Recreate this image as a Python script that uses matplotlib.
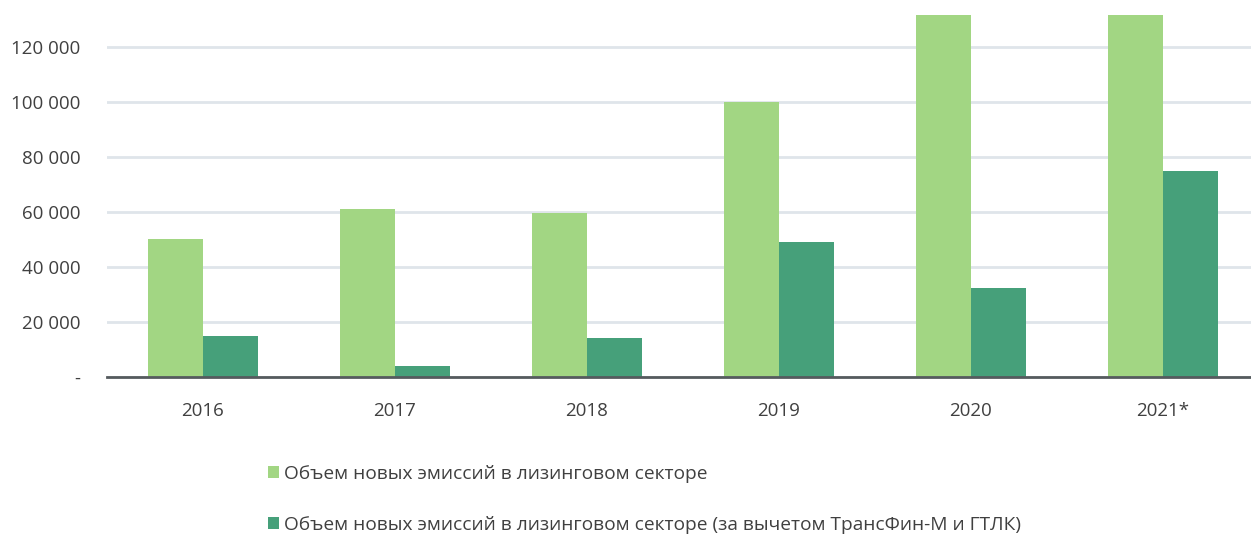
import matplotlib
matplotlib.use("Agg")
import matplotlib.pyplot as plt
import numpy as np
from matplotlib import font_manager

years = ["2016", "2017", "2018", "2019", "2020", "2021*"]
total = [50000, 61000, 59500, 100000, 140000, 140000]
net = [15000, 4000, 14200, 49100, 32400, 75000]
labels = ["Объем новых эмиссий в лизинговом секторе",
          "Объем новых эмиссий в лизинговом секторе (за вычетом ТрансФин-М и ГТЛК)"]
yticks = [0, 20000, 40000, 60000, 80000, 100000, 120000]
ytick_labels = ["-", "20 000", "40 000", "60 000", "80 000", "100 000", "120 000"]

avail = {f.name for f in font_manager.fontManager.ttflist}
fam = ["Liberation Sans Narrow", "DejaVu Sans"] if "Liberation Sans Narrow" in avail else ["Open Sans", "DejaVu Sans"]
plt.rcParams['font.family'] = fam

c_light = "#a2d683"
c_dark = "#46a07a"
txt = "#404040"

fig = plt.figure(figsize=(12.51, 5.40), dpi=100)
ax = fig.add_axes([107/1251, 1-377/540, 1-107/1251, (377-15)/540])

x = np.arange(len(years))
w = 0.286
ax.bar(x - w/2, total, width=w, color=c_light, label=labels[0], zorder=3)
ax.bar(x + w/2, net, width=w, color=c_dark, label=labels[1], zorder=3)

ax.set_xlim(-0.5, (1251-107)/192 - 0.5)
ax.set_ylim(0, 131636)
ax.set_yticks(yticks)
ax.set_yticklabels(ytick_labels)
ax.set_xticks(x)
ax.set_xticklabels(years)
ax.tick_params(axis='both', length=0, labelsize=13.5, colors=txt)
ax.tick_params(axis='x', pad=18)
ax.tick_params(axis='y', pad=19)
ax.grid(axis='y', color="#dfe5ea", linewidth=2, zorder=0)
ax.set_axisbelow(True)
for s in ["top", "right", "left"]:
    ax.spines[s].set_visible(False)
ax.spines["bottom"].set_color("#555b5e")
ax.spines["bottom"].set_linewidth(2)
ax.spines["bottom"].set_zorder(4)

h, l = ax.get_legend_handles_labels()
leg = fig.legend(h, l, loc="upper left", bbox_to_anchor=(268/1251, 1-465/540),
                 frameon=False, fontsize=13.8, handlelength=0.55, handleheight=0.55,
                 handletextpad=0.3, labelspacing=1.72, borderaxespad=0, borderpad=0)
for t in leg.get_texts():
    t.set_color(txt)

fig.savefig("out.png", dpi=100)
